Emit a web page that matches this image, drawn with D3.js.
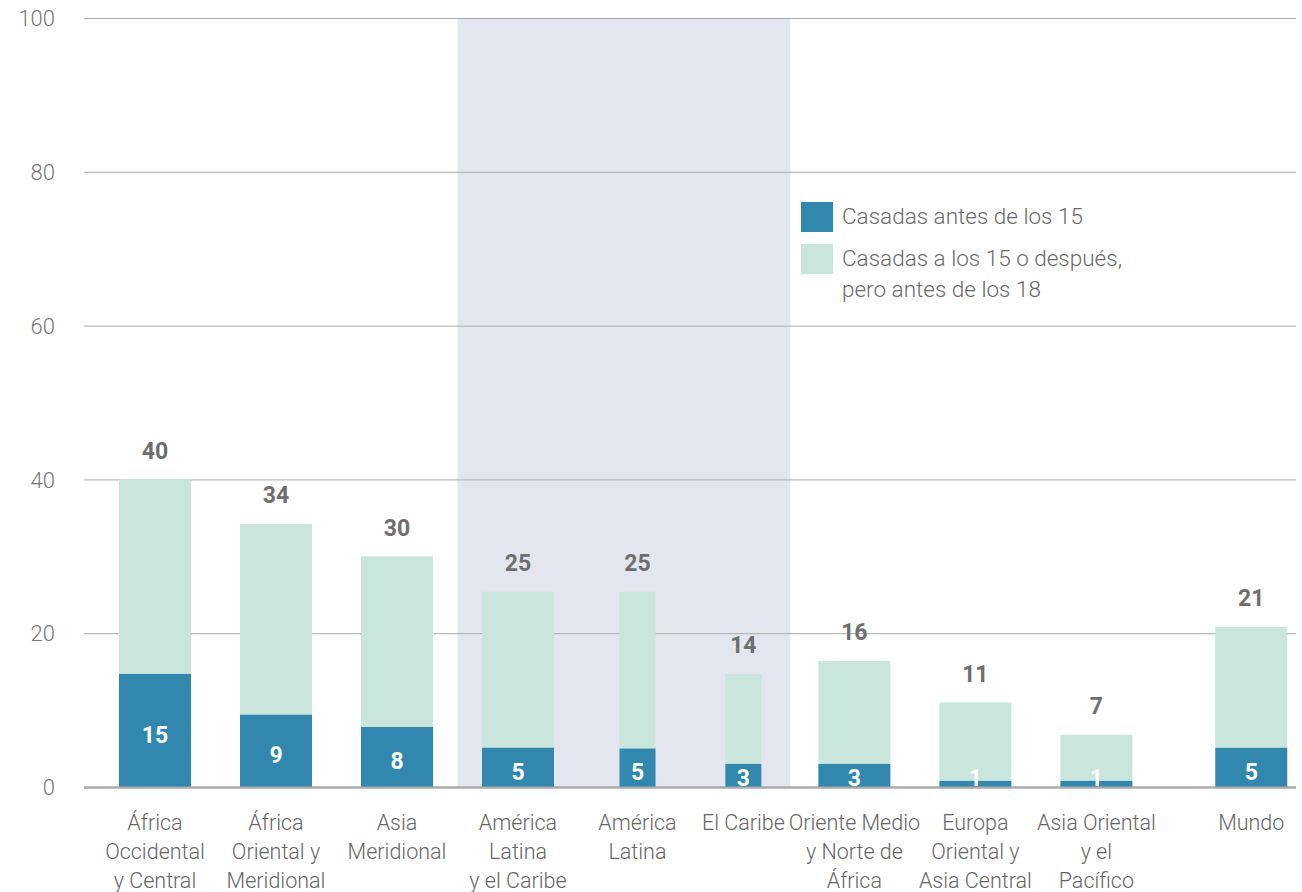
<!DOCTYPE html>
<html>
<head>
<meta charset="utf-8">
<script src="https://cdn.jsdelivr.net/npm/d3@7"></script>
<style>
  html, body { margin: 0; padding: 0; background: #fff; }
  svg { display: block; }
  text { font-family: Roboto, "Noto Sans", sans-serif; }
</style>
</head>
<body>
<svg id="chart" width="1302" height="892"></svg>
<script>
// ---- Data ----
const categories = [
  "África|Occidental|y Central",
  "África|Oriental y|Meridional",
  "Asia|Meridional",
  "América|Latina|y el Caribe",
  "América|Latina",
  "El Caribe",
  "Oriente Medio|y Norte de|África",
  "Europa|Oriental y|Asia Central",
  "Asia Oriental|y el|Pacífico",
  "Mundo"
];
const before15 = [14.7, 9.4, 7.8, 5.1, 5.0, 3.0, 3.0, 0.8, 0.8, 5.1];
const before18 = [40.0, 34.2, 30.0, 25.4, 25.4, 14.7, 16.4, 11.0, 6.8, 20.8];
const before15Labels = ["15", "9", "8", "5", "5", "3", "3", "1", "1", "5"];
const totalLabels = ["40", "34", "30", "25", "25", "14", "16", "11", "7", "21"];
const yTicks = [0, 20, 40, 60, 80, 100];
const seriesNames = ["Casadas antes de los 15", "Casadas a los 15 o después,|pero antes de los 18"];
const subRegions = ["América|Latina", "El Caribe"];          // narrow bars
const highlightGroup = ["América|Latina|y el Caribe", "América|Latina", "El Caribe"];

// ---- Layout ----
const colDark = "#3187ad", colLight = "#c9e5dc", colShade = "#e3e6ef";
const textGray = "#6e6e6e";
const svg = d3.select("#chart");

const y = d3.scaleLinear().domain([0, 100]).range([787, 18]);

// slot units along x
const slots = [];
let u = 0;
categories.forEach((c, i) => {
  if (c === "Mundo") u += 0.28;
  if (i > 0 && highlightGroup.includes(categories[i - 1]) && !highlightGroup.includes(c)) u += 0.03;
  const narrow = subRegions.includes(c);
  const w = narrow ? 0.875 : 1;
  slots.push({ start: u, center: u + w / 2 + (narrow ? 0.05 : 0), end: u + w, narrow });
  u += w;
});
const x = d3.scaleLinear().domain([0, 1]).range([94.5, 94.5 + 121]);
const wideW = 72, narrowW = 36;

// highlight band
const gIdx = highlightGroup.map(c => categories.indexOf(c));
svg.append("rect")
  .attr("x", x(slots[gIdx[0]].start))
  .attr("width", x(slots[gIdx[gIdx.length - 1]].end) - x(slots[gIdx[0]].start))
  .attr("y", y(100)).attr("height", y(0) - y(100))
  .attr("fill", colShade);

// grid + y axis
const yAxis = d3.axisLeft(y).tickValues(yTicks).tickSize(0).tickPadding(0);
const gy = svg.append("g").attr("transform", "translate(55,0)").call(yAxis);
gy.select(".domain").remove();
gy.selectAll("text").attr("font-size", 22).attr("font-weight", 300).attr("fill", "#777")
  .attr("font-family", "Roboto, sans-serif").attr("dy", "0.35em");

svg.append("g").selectAll("line").data(yTicks).join("line")
  .attr("x1", 84).attr("x2", 1296)
  .attr("y1", d => y(d) + 0.5).attr("y2", d => y(d) + 0.5)
  .attr("stroke", "#ababab").attr("stroke-width", d => d === 0 ? 2 : 1);

// bars
const data = categories.map((c, i) => ({
  c, i, b15: before15[i], b18: before18[i],
  l15: before15Labels[i], lt: totalLabels[i], slot: slots[i]
}));
const bw = d => d.slot.narrow ? narrowW : wideW;
const bx = d => x(d.slot.center) - bw(d) / 2;

const bars = svg.append("g");
bars.selectAll("rect.light").data(data).join("rect").attr("class", "light")
  .attr("x", bx).attr("width", bw)
  .attr("y", d => y(d.b18)).attr("height", d => y(d.b15) - y(d.b18))
  .attr("fill", colLight);
bars.selectAll("rect.dark").data(data).join("rect").attr("class", "dark")
  .attr("x", bx).attr("width", bw)
  .attr("y", d => y(d.b15)).attr("height", d => y(0) - y(d.b15))
  .attr("fill", colDark);

// baseline redraw over bars
svg.append("line").attr("x1", 84).attr("x2", 1296)
  .attr("y1", y(0) + 0.5).attr("y2", y(0) + 0.5)
  .attr("stroke", "#ababab").attr("stroke-width", 2);

// clip for inner labels
svg.append("clipPath").attr("id", "plotClip").append("rect")
  .attr("x", 0).attr("y", 0).attr("width", 1302).attr("height", y(0));

svg.append("g").attr("clip-path", "url(#plotClip)")
  .selectAll("text").data(data).join("text")
  .attr("x", d => x(d.slot.center))
  .attr("y", d => Math.min((y(d.b15) + y(0)) / 2 + 4, y(0) - 9))
  .attr("dy", "0.36em")
  .attr("text-anchor", "middle")
  .attr("font-size", 23).attr("font-weight", 700).attr("fill", "#fff")
  .text(d => d.l15);

svg.append("g").selectAll("text").data(data).join("text")
  .attr("x", d => x(d.slot.center))
  .attr("y", d => y(d.b18) - 29)
  .attr("dy", "0.36em")
  .attr("text-anchor", "middle")
  .attr("font-size", 23).attr("font-weight", 700).attr("fill", textGray)
  .text(d => d.lt);

// x labels
const xl = svg.append("g").selectAll("text").data(data).join("text")
  .attr("x", d => x(d.slot.center))
  .attr("y", 822)
  .attr("text-anchor", "middle")
  .attr("font-size", 21.5).attr("font-weight", 300).attr("fill", "#666");
xl.each(function(d) {
  const t = d3.select(this);
  d.c.split("|").forEach((line, k) => {
    t.append("tspan").attr("x", x(d.slot.center)).attr("y", 822 + k * 29)
      .attr("dy", "0.35em").text(line);
  });
});

// legend
const lg = svg.append("g").attr("transform", "translate(801,202)");
const legCols = [colDark, colLight];
seriesNames.forEach((name, k) => {
  const gy0 = k * 42;
  lg.append("rect").attr("x", 0).attr("y", gy0).attr("width", 32).attr("height", 30).attr("fill", legCols[k]);
  const t = lg.append("text").attr("font-size", 22.5).attr("font-weight", 300).attr("fill", "#6a6a6a");
  name.split("|").forEach((line, j) => {
    t.append("tspan").attr("x", 41).attr("y", gy0 + 14 + j * 31).attr("dy", "0.35em").text(line);
  });
});
</script>
</body>
</html>
